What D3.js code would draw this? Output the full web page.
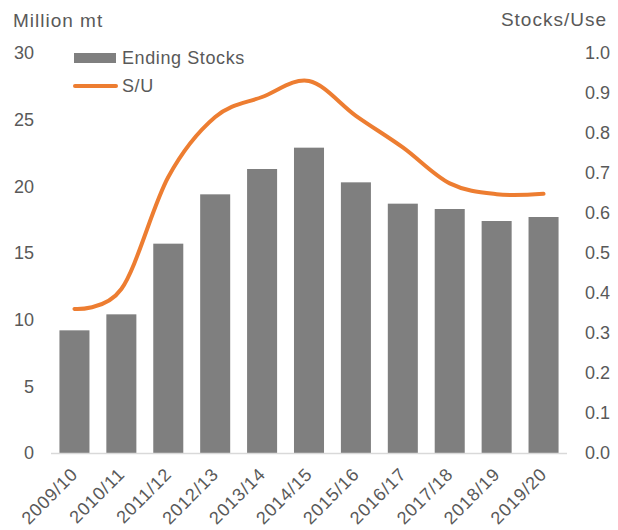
<!DOCTYPE html>
<html>
<head>
<meta charset="utf-8">
<script src="https://cdn.jsdelivr.net/npm/d3@7"></script>
<style>
  body { margin: 0; background: #fff; }
  text { font-family: "Liberation Sans", Arial, sans-serif; fill: #595959; }
</style>
</head>
<body>
<div class="chart"></div>
<script>
// DATA ------------------------------**
const seasons = ['2009/10', '2010/11', '2011/12', '2012/13', '2013/14', '2014/15',
    '2015/16', '2016/17', '2017/18', '2018/19', '2019/20'];
const endingStocks = [9.2, 10.4, 15.7, 19.4, 21.3, 22.9, 20.3, 18.7, 18.3, 17.4, 17.7];
const stocksToUse = [0.36, 0.41, 0.69, 0.84, 0.89, 0.93, 0.843, 0.764, 0.674, 0.647, 0.648];
const leftTicks = [0, 5, 10, 15, 20, 25, 30];
const rightTicks = [0, 0.1, 0.2, 0.3, 0.4, 0.5, 0.6, 0.7, 0.8, 0.9, 1.0];

// CHART INIT ------------------------------**
const width = 618;
const height = 530;
const plot = {left: 51, right: 567, top: 53, bottom: 453};

const svg = d3.select('.chart').append('svg')
    .attr('width', width)
    .attr('height', height);

let xScale = d3.scaleBand()
    .domain(seasons)
    .range([plot.left, plot.right])
    .paddingInner(0.36)
    .paddingOuter(0.18);

let yScale = d3.scaleLinear()
    .domain([0, 30])
    .range([plot.bottom, plot.top]);

let y2Scale = d3.scaleLinear()
    .domain([0, 1])
    .range([plot.bottom, plot.top]);

// bars
svg.selectAll('.bar')
    .data(endingStocks)
    .enter()
    .append('rect')
    .attr('class', 'bar')
    .attr('x', (d, i) => xScale(seasons[i]))
    .attr('y', d => yScale(d))
    .attr('width', xScale.bandwidth())
    .attr('height', d => plot.bottom - yScale(d))
    .attr('fill', '#7f7f7f');

// baseline
svg.append('line')
    .attr('x1', plot.left)
    .attr('x2', plot.right)
    .attr('y1', plot.bottom + 0.5)
    .attr('y2', plot.bottom + 0.5)
    .attr('stroke', '#d9d9d9')
    .attr('stroke-width', 1.5);

// S/U line (excel style smoothing)
const line = d3.line()
    .x((d, i) => xScale(seasons[i]) + xScale.bandwidth() / 2)
    .y(d => y2Scale(d))
    .curve(d3.curveCardinal.tension(0));

svg.append('path')
    .datum(stocksToUse)
    .attr('d', line)
    .attr('fill', 'none')
    .attr('stroke', '#ed7d31')
    .attr('stroke-width', 4)
    .attr('stroke-linecap', 'round');

// axes
let yAxis = d3.axisLeft(yScale)
    .tickValues(leftTicks)
    .tickSize(0)
    .tickPadding(0)
    .tickFormat(d3.format('d'));

let y2Axis = d3.axisRight(y2Scale)
    .tickValues(rightTicks)
    .tickSize(0)
    .tickPadding(0)
    .tickFormat(d3.format('.1f'));

let yAxisGroup = svg.append('g')
    .attr('class', 'axis y-axis')
    .attr('transform', 'translate(34,0)')
    .call(yAxis);

let y2AxisGroup = svg.append('g')
    .attr('class', 'axis y2-axis')
    .attr('transform', 'translate(585,0)')
    .call(y2Axis);

svg.selectAll('.axis .domain').remove();
svg.selectAll('.axis text')
    .style('font-size', '18px')
    .attr('fill', '#595959');

// x labels, rotated
svg.selectAll('.x-label')
    .data(seasons)
    .enter()
    .append('text')
    .attr('class', 'x-label')
    .attr('transform', d => 'translate(' + (xScale(d) + xScale.bandwidth() / 2) + ',471) rotate(-45)')
    .attr('text-anchor', 'end')
    .attr('dy', '0.35em')
    .style('font-size', '18px')
    .style('letter-spacing', '0.8px')
    .text(d => d);

// axis titles
svg.append('text')
    .attr('x', 13)
    .attr('y', 27)
    .style('font-size', '19px')
    .style('letter-spacing', '1px')
    .text('Million mt');

svg.append('text')
    .attr('x', 607)
    .attr('y', 26)
    .attr('text-anchor', 'end')
    .style('font-size', '19px')
    .style('letter-spacing', '1px')
    .text('Stocks/Use');

// legend
const legend = svg.append('g').attr('class', 'legend');

legend.append('rect')
    .attr('x', 74)
    .attr('y', 53)
    .attr('width', 42)
    .attr('height', 10)
    .attr('fill', '#7f7f7f');

legend.append('line')
    .attr('x1', 75)
    .attr('x2', 116)
    .attr('y1', 86)
    .attr('y2', 86)
    .attr('stroke', '#ed7d31')
    .attr('stroke-width', 4)
    .attr('stroke-linecap', 'round');

legend.append('text')
    .attr('x', 122)
    .attr('y', 58)
    .attr('dy', '0.35em')
    .style('font-size', '18px')
    .style('letter-spacing', '0.6px')
    .text('Ending Stocks');

legend.append('text')
    .attr('x', 122)
    .attr('y', 86)
    .attr('dy', '0.35em')
    .style('font-size', '18px')
    .style('letter-spacing', '0.6px')
    .text('S/U');
</script>
</body>
</html>
